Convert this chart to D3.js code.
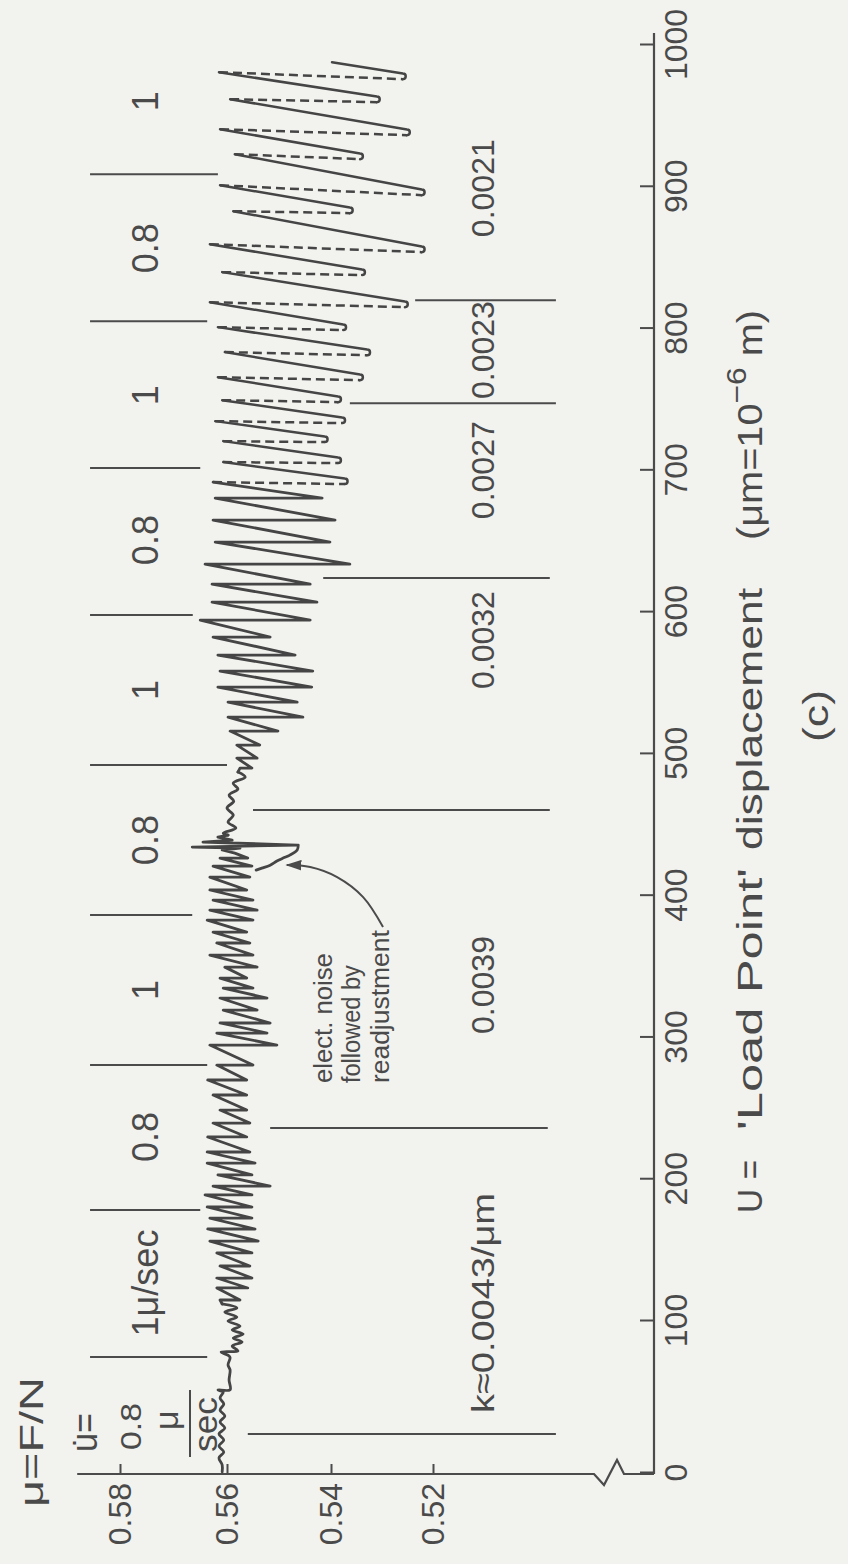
<!DOCTYPE html>
<html><head><meta charset="utf-8">
<script src="https://cdn.jsdelivr.net/npm/d3@7"></script>
<style>
html,body{margin:0;padding:0;background:#f2f2ef;}
svg{display:block;}
text{font-family:"Liberation Sans",Arial,sans-serif;fill:#4a4a4a;}
</style></head><body>
<svg id="chart" width="848" height="1564"></svg>
<script>
// ---------- DATA (U in micrometres, mu = F/N) ----------
const uTicks = [0,100,200,300,400,500,600,700,800,900,1000];
const muTicks = [0.52,0.54,0.56,0.58];

// slow start, small wiggles
const startWiggle = [[0.7,0.5609],[5.3,0.5609],[9.9,0.5615],[13.8,0.5606],[17.8,0.5615],[21.7,0.5606],[25.7,0.5615],[29.6,0.5604],[33.6,0.5613],[37.5,0.5604],[41.4,0.5613],[45.4,0.5606],[49.3,0.5613],[53.3,0.5607],[54.6,0.5617],[54.8,0.5594],[61.2,0.5596],[67.8,0.5594],[71.1,0.5598],[75.7,0.5594],[77.0,0.5596],[79.6,0.5611],[80.3,0.5579],[83.6,0.5590],[86.2,0.5571],[88.8,0.5588],[91.4,0.5569],[94.1,0.5590],[96.7,0.5575],[100.0,0.5598],[102.8,0.5581],[106.3,0.5604],[109.2,0.5581],[112.0,0.5609]];
// stick-slip cycles before the noise: [U at slip, mu peak, mu after slip]
const preCycles = [[114.8,0.5613,0.5575],[123.3,0.5619,0.5560],[130.3,0.5619,0.5552],[138.8,0.5613,0.5556],[148.0,0.5619,0.5552],[156.4,0.5632,0.5540],[164.9,0.5636,0.5546],[172.6,0.5632,0.5552],[180.4,0.5637,0.5552],[188.9,0.5641,0.5552],[195.2,0.5626,0.5517],[203.0,0.5617,0.5552],[211.4,0.5637,0.5546],[219.2,0.5637,0.5556],[229.8,0.5636,0.5562],[239.6,0.5626,0.5556],[248.8,0.5613,0.5562],[259.4,0.5626,0.5562],[270.0,0.5636,0.5562],[280.5,0.5619,0.5550],[294.6,0.5632,0.5504],[303.1,0.5619,0.5523],[310.2,0.5613,0.5517],[319.3,0.5607,0.5542],[327.8,0.5613,0.5523],[334.8,0.5607,0.5550],[341.9,0.5613,0.5562],[349.6,0.5604,0.5542],[358.1,0.5632,0.5550],[366.6,0.5619,0.5556],[374.3,0.5626,0.5562],[382.8,0.5637,0.5550],[389.8,0.5632,0.5542],[396.9,0.5626,0.5550],[404.0,0.5632,0.5562],[413.1,0.5632,0.5556],[420.9,0.5626,0.5552],[426.5,0.5613,0.5560]];
const noiseSpike = [[430.0,0.5585],[432.2,0.5609],[433.6,0.5575],[434.3,0.5665],[435.7,0.5465],[437.8,0.5645],[439.2,0.5590],[441.3,0.5617],[442.7,0.5598]];
const readjust = [[435.7,0.5463],[432.2,0.5465],[428.6,0.5479],[426.5,0.5492],[424.4,0.5504],[421.5,0.5517],[419.4,0.5533],[418.0,0.5544]];
const postNoiseWiggle = [[444.1,0.5607],[447.7,0.5583],[451.9,0.5598],[456.8,0.5588],[461.8,0.5600],[466.7,0.5587],[470.9,0.5596],[475.2,0.5579],[479.4,0.5588],[483.6,0.5565],[487.2,0.5579]];
const postCycles = [[490.0,0.5575,0.5552],[497.0,0.5581,0.5542],[506.2,0.5581,0.5537],[516.1,0.5594,0.5502],[525.9,0.5598,0.5454],[536.5,0.5598,0.5465],[547.1,0.5617,0.5437],[558.4,0.5613,0.5435],[569.7,0.5617,0.5469],[582.4,0.5626,0.5517],[594.4,0.5650,0.5440],[607.0,0.5628,0.5427],[619.7,0.5628,0.5440],[633.8,0.5641,0.5363],[649.4,0.5622,0.5402],[664.9,0.5626,0.5392],[680.4,0.5622,0.5417]];
// looped region: peaks (start of dashed slip) and troughs (end of slip)
const loopPeaks = [[691.7,0.5626],[705.8,0.5607],[720.6,0.5607],[734.7,0.5622],[749.5,0.5609],[765.7,0.5617],[783.4,0.5604],[801.0,0.5617],[818.6,0.5632],[839.8,0.5609],[859.5,0.5632],[882.8,0.5588],[901.1,0.5613],[923.0,0.5585],[940.6,0.5613],[961.8,0.5594],[980.8,0.5615]];
const loopTroughs = [[690.3,0.5373],[705.1,0.5386],[719.9,0.5412],[733.3,0.5378],[748.1,0.5386],[763.6,0.5343],[781.2,0.5329],[798.9,0.5376],[815.1,0.5255],[837.7,0.5339],[853.9,0.5222],[881.4,0.5363],[894.1,0.5222],[919.5,0.5343],[936.4,0.5251],[959.7,0.5310],[975.9,0.5259]];
const traceEnd = [987.9,0.5398];

// load-point velocity regimes
const velSepU = [76.3,178.3,280.5,386.3,492.1,597.9,701.6,805.2,908.9];
const velSepEnd = [0.5637,0.5650,0.5637,0.5665,0.5600,0.5664,0.5650,0.5637,0.5617];
const velSepTop = 0.5856;
const velLabels = ["1\u03bc/sec","0.8","1","0.8","1","0.8","1","0.8","1"];
const velLabelU = [126.8,229.8,333.4,439.2,545.0,650.8,753.0,856.7,960.4];
// machine stiffness regimes
const kSepU = [25.7,236.1,460.4,624.0,747.4,820.0];
const kSepTop = [0.5560,0.5517,0.5550,0.5415,0.5363,0.5235];
const kSepBottom = [0.4959,0.4975,0.4971,0.4971,0.4959,0.4959];
const kLabels = ["k\u22480.0043/\u03bcm","0.0039","0.0032","0.0027","0.0023","0.0021"];
const kLabelU = [112.7,337.0,580.3,700.1,784.8,899.0];
// annotation
const noteLines = ["elect. noise","followed by","readjustment"];
const noteMu = [0.5398,0.5343,0.5286];
const noteLen = [130,118,153];
const noteU = 267.8;
const arrowPts = [[377.9,0.5298],[399.0,0.5337],[413.1,0.5388],[420.2,0.5440],[421.6,0.5485]];

// ---------- DRAWING ----------
const W = 848, H = 1564;
const ink = "#4b4b4b";
const svg = d3.select("#chart");
svg.append("rect").attr("width",W).attr("height",H).attr("fill","#f2f2ef");
const defs = svg.append("defs");
defs.append("marker").attr("id","ah").attr("viewBox","0 0 12 8").attr("refX",11).attr("refY",4)
  .attr("markerWidth",16).attr("markerHeight",11).attr("markerUnits","userSpaceOnUse").attr("orient","auto")
  .append("path").attr("d","M0,0 L12,4 L0,8 Z").attr("fill",ink);

// the figure is printed rotated a quarter turn
const g = svg.append("g").attr("transform",`translate(0,${H}) rotate(-90)`);

const x = d3.scaleLinear().domain([0,100,1000]).range([91,243,1519]);
const y = d3.scaleLinear().domain([0.52,0.54,0.56,0.58]).range([433,331,227,120]);
const axisPos = 654;   // U axis (in rotated frame)
const muAxisPos = 90;  // mu axis

// U axis
const xa = g.append("g").attr("transform",`translate(0,${axisPos})`)
  .call(d3.axisBottom(x).tickValues(uTicks).tickSizeInner(-14).tickSizeOuter(0).tickPadding(10).tickFormat(d3.format("d")));
xa.select(".domain").remove();
xa.selectAll(".tick line").attr("stroke",ink).attr("stroke-width",2);
xa.selectAll(".tick text").attr("font-size",32).attr("fill",ink).attr("font-family","Liberation Sans, Arial, sans-serif");
g.append("line").attr("x1",muAxisPos).attr("x2",x(1000)+12).attr("y1",axisPos).attr("y2",axisPos)
  .attr("stroke",ink).attr("stroke-width",2.2);

// mu axis
const ya = g.append("g").attr("transform",`translate(${muAxisPos},0)`)
  .call(d3.axisLeft(y).tickValues(muTicks).tickSizeInner(-10).tickSizeOuter(0).tickPadding(9).tickFormat(d3.format(".2f")));
ya.select(".domain").remove();
ya.selectAll(".tick line").attr("stroke",ink).attr("stroke-width",2);
ya.selectAll(".tick text").attr("font-size",32).attr("fill",ink).attr("font-family","Liberation Sans, Arial, sans-serif");
// axis line with break
const bTop = 594;
g.append("path").attr("fill","none").attr("stroke",ink).attr("stroke-width",2.2).attr("stroke-linejoin","miter")
  .attr("d",`M${muAxisPos},${y(0.588)} L${muAxisPos},${bTop} L${muAxisPos-11},${bTop+10} L${muAxisPos+14},${bTop+23} L${muAxisPos},${bTop+30} L${muAxisPos},${axisPos}`);

// separators
g.selectAll(".vsep").data(velSepU).join("line").attr("class","vsep")
  .attr("x1",d=>x(d)).attr("x2",d=>x(d)).attr("y1",y(velSepTop)).attr("y2",(d,i)=>y(velSepEnd[i]))
  .attr("stroke",ink).attr("stroke-width",2);
g.selectAll(".ksep").data(kSepU).join("line").attr("class","ksep")
  .attr("x1",d=>x(d)).attr("x2",d=>x(d)).attr("y1",(d,i)=>y(kSepTop[i])).attr("y2",(d,i)=>y(kSepBottom[i]))
  .attr("stroke",ink).attr("stroke-width",2);

// labels
g.selectAll(".vlab").data(velLabels).join("text").attr("class","vlab")
  .attr("x",(d,i)=>x(velLabelU[i])).attr("y",y(0.5729)).attr("text-anchor","middle").attr("font-size",36).text(d=>d);
g.selectAll(".klab").data(kLabels).join("text").attr("class","klab")
  .attr("x",(d,i)=>x(kLabelU[i])).attr("y",y(0.5080)).attr("text-anchor","middle").attr("font-size",32)
  .each(function(d,i){ if(i===0) d3.select(this).attr("textLength",220).attr("lengthAdjust","spacingAndGlyphs"); })
  .text(d=>d);

// top-left block
function txt(t,px,py,fs,len){ const e=g.append("text").attr("x",px).attr("y",py).attr("font-size",fs).text(t); if(len) e.attr("textLength",len).attr("lengthAdjust","spacingAndGlyphs"); return e; }
txt("\u03bc=F/N",57,43,33,130);
txt("u\u0307=",112,97,36,39).attr("font-family","DejaVu Sans, sans-serif");
txt("0.8",114,141,30,47);
txt("\u03bc",134,178,34);
g.append("line").attr("x1",107).attr("x2",174).attr("y1",190).attr("y2",190).attr("stroke",ink).attr("stroke-width",2);
txt("sec",112,217,34,55);

// annotation
noteLines.forEach((t,i)=>{ txt(t,x(noteU),y(noteMu[i]),25,noteLen[i]); });
g.append("path").attr("fill","none").attr("stroke",ink).attr("stroke-width",2).attr("marker-end","url(#ah)")
  .attr("d",d3.line().x(d=>x(d[0])).y(d=>y(d[1])).curve(d3.curveCatmullRom)(arrowPts));

// axis title
txt("U =",351,762,35,53);
txt("'Load Point'",434,762,35,262);
txt("displacement",714,762,35,262);
const t4 = g.append("text").attr("x",1024).attr("y",762).attr("font-size",35).attr("textLength",230).attr("lengthAdjust","spacingAndGlyphs");
t4.append("tspan").text("(\u03bcm=10");
t4.append("tspan").attr("dy",-16).attr("font-size",28).text("\u22126");
t4.append("tspan").attr("dy",16).text(" m)");
txt("(c)",822,828,35,52);

// ---------- TRACE ----------
const lin = d3.line().x(d=>x(d[0])).y(d=>y(d[1]));
const smooth = d3.line().x(d=>x(d[0])).y(d=>y(d[1])).curve(d3.curveCatmullRom.alpha(0.5));
const traceStyle = s => s.attr("fill","none").attr("stroke","#454545").attr("stroke-width",2.8)
  .attr("stroke-linejoin","round").attr("stroke-linecap","round");
const flat = cs => cs.flatMap(c=>[[c[0],c[1]],[c[0],c[2]]]);

g.append("path").call(traceStyle).attr("d",smooth(startWiggle));
g.append("path").call(traceStyle).attr("d",lin([startWiggle[startWiggle.length-1],...flat(preCycles),...noiseSpike]));
g.append("path").call(traceStyle).attr("d",smooth([noiseSpike[noiseSpike.length-1],...postNoiseWiggle]));
g.append("path").call(traceStyle).attr("d",smooth(readjust));
g.append("path").call(traceStyle).attr("d",lin([postNoiseWiggle[postNoiseWiggle.length-1],...flat(postCycles),loopPeaks[0]]));

loopPeaks.forEach((p,i)=>{
  const t = loopTroughs[i];
  const nxt = i+1<loopPeaks.length ? loopPeaks[i+1] : traceEnd;
  g.append("path").call(traceStyle).attr("stroke-width",2.5).attr("stroke-dasharray","9 5").attr("stroke-linecap","butt")
    .attr("d",lin([p,t]));
  const tx=x(t[0]), ty=y(t[1]);
  g.append("path").call(traceStyle).attr("stroke-width",2.5)
    .attr("d",`M${tx},${ty} A2.8,2.8 0 0 0 ${tx+5.6},${ty} L${x(nxt[0])},${y(nxt[1])}`);
});
</script></body></html>
